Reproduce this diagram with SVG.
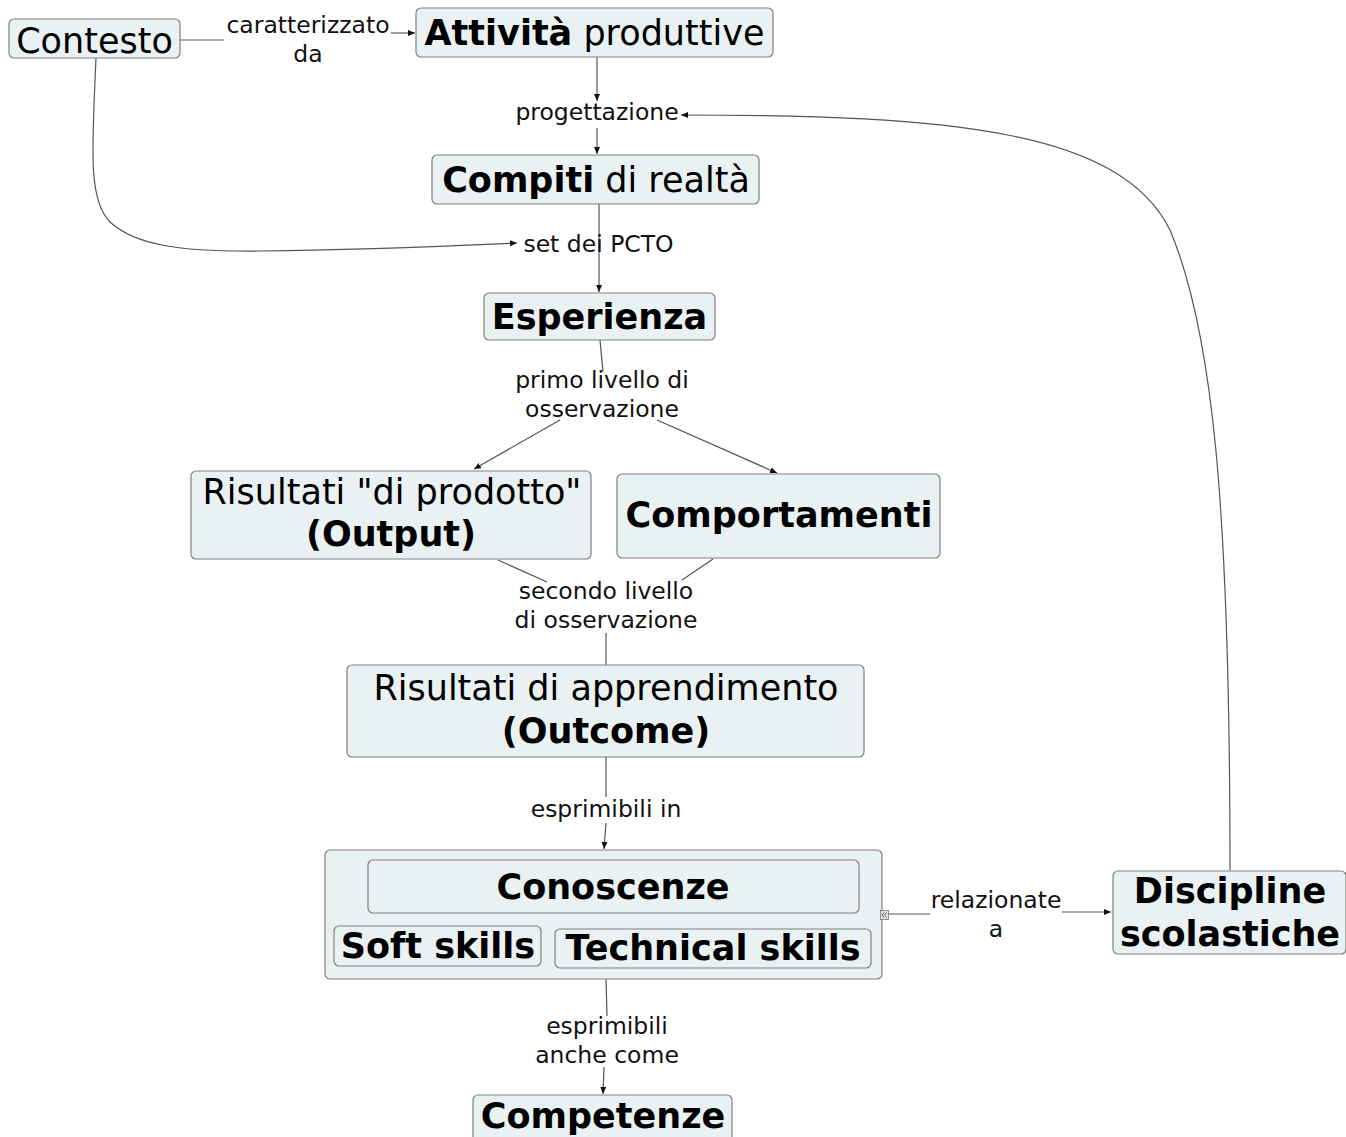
<svg xmlns="http://www.w3.org/2000/svg" width="1346" height="1137" viewBox="0 0 1346 1137">
<style>
.n{fill:#e9f1f3;stroke:#808080;stroke-width:1.2}
.t{font-family:"DejaVu Sans",Verdana,sans-serif;font-size:35px;fill:#000;text-anchor:middle}
.b{font-weight:bold}
.l{font-family:"DejaVu Sans",Verdana,sans-serif;font-size:23.5px;fill:#111;text-anchor:middle}
.c{fill:none;stroke:#555;stroke-width:1.2}
</style>
<defs>
<marker id="ar" markerWidth="8" markerHeight="8" refX="7" refY="4" orient="auto" markerUnits="userSpaceOnUse">
<path d="M0,1 L7,4 L0,7 Z" fill="#111"/>
</marker>
</defs>
<rect width="1346" height="1137" fill="#fff"/>
<g id="connectors">
<path class="c" d="M180,40 L224,40"/>
<path class="c" d="M391,33 L415,33" marker-end="url(#ar)"/>
<path class="c" d="M597,57 L597,101" marker-end="url(#ar)"/>
<path class="c" d="M597,128 L597,154" marker-end="url(#ar)"/>
<path class="c" d="M1230,870 C1230,500 1212,330 1170,230 C1120,130 950,115 681,115" marker-end="url(#ar)"/>
<path class="c" d="M96,58 C92,150 88,200 110,222 C135,245 180,252 260,251 C350,250 450,246 517,243" marker-end="url(#ar)"/>
<path class="c" d="M599,204 L599,292" marker-end="url(#ar)"/>
<path class="c" d="M600,340 L603,372"/>
<path class="c" d="M560,420 L474,469" marker-end="url(#ar)"/>
<path class="c" d="M657,420 L777,473" marker-end="url(#ar)"/>
<path class="c" d="M498,560 L547,582"/>
<path class="c" d="M713,559 L682,580"/>
<path class="c" d="M606,633 L606,665"/>
<path class="c" d="M606,757 L606,797"/>
<path class="c" d="M606,823 L604,849" marker-end="url(#ar)"/>
<path class="c" d="M606,979 L607,1016"/>
<path class="c" d="M604,1067 L603,1094" marker-end="url(#ar)"/>
<path class="c" d="M889,914 L930,914"/>
<path class="c" d="M1062,912 L1111,912" marker-end="url(#ar)"/>
</g>
<g id="contesto"><rect class="n" x="9" y="19" width="171" height="39" rx="5"/><text class="t" x="94.5" y="53">Contesto</text></g>
<g id="lbl-caratterizzato"><text class="l" x="308" y="33">caratterizzato</text><text class="l" x="308" y="62">da</text></g>
<g id="attivita"><rect class="n" x="416" y="8" width="357" height="49" rx="5"/><text class="t" x="594.5" y="45"><tspan class="b">Attività</tspan> produttive</text></g>
<g id="lbl-progettazione"><text class="l" x="597" y="120">progettazione</text></g>
<g id="compiti"><rect class="n" x="432" y="155" width="327" height="49" rx="5"/><text class="t" x="596" y="192"><tspan class="b">Compiti</tspan> di realtà</text></g>
<g id="lbl-pcto"><text class="l" x="598.5" y="252">set dei PCTO</text></g>
<g id="esperienza"><rect class="n" x="484" y="293" width="231" height="47" rx="5"/><text class="t b" x="599.5" y="329">Esperienza</text></g>
<g id="lbl-primo"><text class="l" x="602" y="388">primo livello di</text><text class="l" x="602" y="417">osservazione</text></g>
<g id="output"><rect class="n" x="191" y="471" width="400" height="88" rx="5"/><text class="t" x="392" y="504">Risultati "di prodotto"</text><text class="t b" x="391" y="546">(Output)</text></g>
<g id="comportamenti"><rect class="n" x="617" y="474" width="323" height="84" rx="5"/><text class="t b" x="779" y="527">Comportamenti</text></g>
<g id="lbl-secondo"><text class="l" x="606" y="599">secondo livello</text><text class="l" x="606" y="628">di osservazione</text></g>
<g id="outcome"><rect class="n" x="347" y="665" width="517" height="92" rx="5"/><text class="t" x="606" y="700">Risultati di apprendimento</text><text class="t b" x="606" y="743">(Outcome)</text></g>
<g id="lbl-esprimibili-in"><text class="l" x="606" y="817">esprimibili in</text></g>
<g id="gruppo">
<rect class="n" x="325" y="850" width="557" height="129" rx="5"/>
<g id="conoscenze"><rect class="n" x="368" y="860" width="491" height="53" rx="5"/><text class="t b" x="613" y="899">Conoscenze</text></g>
<g id="soft"><rect class="n" x="334" y="926" width="207" height="40" rx="5"/><text class="t b" x="438" y="958">Soft skills</text></g>
<g id="technical"><rect class="n" x="555" y="929" width="316" height="39" rx="5"/><text class="t b" x="713" y="960">Technical skills</text></g>
<g id="icon"><rect x="880.5" y="910.5" width="8" height="9" fill="#dde3e6" stroke="#777" stroke-width="0.8"/><path d="M884,912.5 L882,915 L884,917.5 M886.5,912.5 L884.5,915 L886.5,917.5" fill="none" stroke="#444" stroke-width="0.8"/></g>
</g>
<g id="lbl-relazionate"><text class="l" x="996" y="908">relazionate</text><text class="l" x="996" y="937">a</text></g>
<g id="discipline"><rect class="n" x="1113" y="871" width="233" height="83" rx="5"/><text class="t b" x="1230" y="903">Discipline</text><text class="t b" x="1230" y="946">scolastiche</text></g>
<g id="lbl-anche"><text class="l" x="607" y="1034">esprimibili</text><text class="l" x="607" y="1063">anche come</text></g>
<g id="competenze"><rect class="n" x="473" y="1095" width="259" height="50" rx="5"/><text class="t b" x="603" y="1128">Competenze</text></g>
</svg>
